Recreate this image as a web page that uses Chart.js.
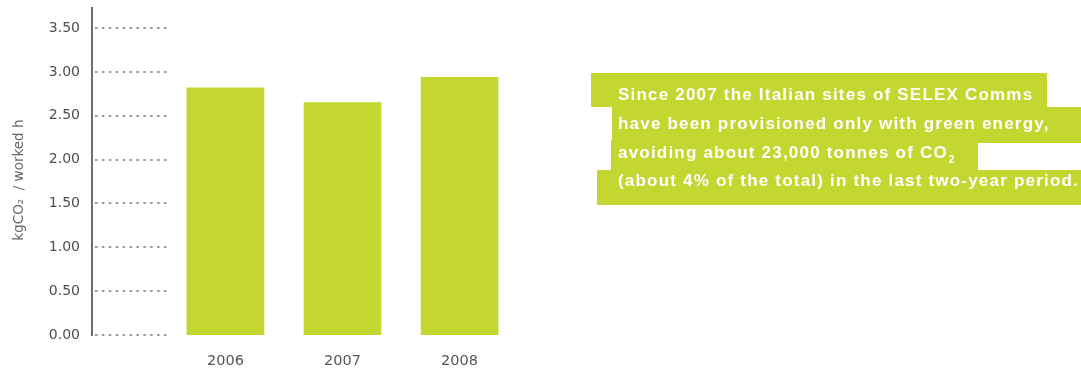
<!DOCTYPE html>
<html>
<head>
<meta charset="utf-8">
<script src="https://cdn.jsdelivr.net/npm/chart.js@4"></script>
<style>
  html, body { margin: 0; padding: 0; background: #fff; }
  body { width: 1081px; height: 369px; position: relative; overflow: hidden; font-family: "DejaVu Sans", sans-serif; }
  #chartBox { position: absolute; left: 0; top: 0; width: 600px; height: 369px; }
  .note-bg { position: absolute; background: #c3d730; }
  .note-line { position: absolute; left: 618px; color: #fff; font-family: "Liberation Sans", Arial, sans-serif; font-weight: bold; font-size: 17px; letter-spacing: 1.2px; line-height: 20px; white-space: nowrap; }
  .note-line .sub { position: relative; top: 5px; font-size: 10px; margin-left: 1px; }
</style>
</head>
<body>
<div id="chartBox"><canvas id="co2Chart"></canvas></div>

<!-- green note on the right -->
<div class="note-bg" style="left:591px; top:73px; width:456px; height:34px;"></div>
<div class="note-bg" style="left:612px; top:107px; width:469px; height:36px;"></div>
<div class="note-bg" style="left:611px; top:140px; width:367px; height:30px;"></div>
<div class="note-bg" style="left:597px; top:170px; width:484px; height:35px;"></div>
<div class="note-line" style="top:85px;">Since 2007 the Italian sites of SELEX Comms</div>
<div class="note-line" style="top:114px;">have been provisioned only with green energy,</div>
<div class="note-line" style="top:143px;">avoiding about 23,000 tonnes of CO<span class="sub">2</span></div>
<div class="note-line" style="top:171px;">(about 4% of the total) in the last two-year period.</div>

<script>
const years = [2006, 2007, 2008];
const emissions = [2.82, 2.65, 2.94];   // kgCO2 per worked hour
const yTicks = [0, 0.5, 1, 1.5, 2, 2.5, 3, 3.5];

const green = '#c3d730';

// short dotted stubs to the right of the y axis at each tick
const gridStubs = {
  id: 'gridStubs',
  beforeDatasetsDraw(chart) {
    const { ctx, chartArea, scales: { y } } = chart;
    ctx.save();
    ctx.strokeStyle = '#999';
    ctx.lineWidth = 2;
    ctx.setLineDash([2.5, 4.4]);
    y.ticks.forEach(t => {
      const py = Math.round(y.getPixelForValue(t.value));
      ctx.beginPath();
      ctx.moveTo(chartArea.left + 3, py);
      ctx.lineTo(chartArea.left + 78, py);
      ctx.stroke();
    });
    ctx.restore();
  }
};

const config = {
  type: 'bar',
  data: {
    datasets: [{
      data: years.map((yr, i) => ({ x: yr, y: emissions[i] })),
      backgroundColor: green,
      borderWidth: 0,
      barThickness: 77
    }]
  },
  options: {
    responsive: true,
    maintainAspectRatio: false,
    animation: false,
    layout: { padding: { top: 8, right: 7, bottom: 0, left: 0 } },
    plugins: { legend: { display: false }, tooltip: { enabled: false } },
    scales: {
      x: {
        type: 'linear',
        offset: false,
        min: 2004.86,
        max: 2009.14,
        afterBuildTicks: s => { s.ticks = years.map(v => ({ value: v })); },
        afterFit: s => { s.height = 34; s.paddingLeft = 0; s.paddingRight = 0; },
        grid: { display: false, drawTicks: false },
        border: { display: false },
        ticks: {
          callback: v => String(v),
          color: '#555',
          font: { family: 'DejaVu Sans', size: 14.5 },
          padding: 18,
          maxRotation: 0,
          autoSkip: false
        }
      },
      y: {
        min: 0,
        max: 3.73,
        afterBuildTicks: s => { s.ticks = yTicks.map(v => ({ value: v })); },
        afterFit: s => { s.width = 92; s.paddingTop = 0; s.paddingBottom = 0; },
        grid: { display: false, drawTicks: false },
        border: { display: true, color: '#6e6e6e', width: 2 },
        ticks: {
          callback: v => v.toFixed(2),
          color: '#4f4f4f',
          font: { family: 'DejaVu Sans', size: 14 },
          padding: 12
        },
        title: {
          display: true,
          text: 'kgCO₂  / worked h    ',
          color: '#666',
          font: { family: 'DejaVu Sans', size: 13.5 },
          padding: { top: 11, bottom: 0 }
        }
      }
    }
  },
  plugins: [gridStubs]
};

const co2Chart = new Chart(document.getElementById('co2Chart'), config);
</script>
</body>
</html>
